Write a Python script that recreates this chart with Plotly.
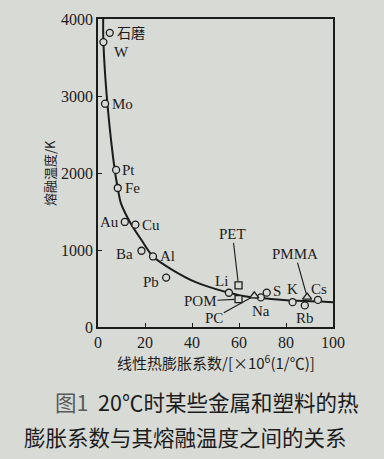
import plotly.graph_objects as go

# Metals (open circles): linear expansion coefficient (x10^-6 /°C) and melting point (K)
metal_names = ["石磨", "W", "Mo", "Pt", "Fe", "Au", "Cu", "Ba", "Al", "Pb",
               "Li", "Na", "S", "K", "Rb", "Cs"]
metal_alpha = [5.0, 2.3, 3.0, 7.7, 8.4, 11.4, 15.9, 18.5, 23.4, 29.0,
               55.7, 69.3, 71.8, 82.8, 88.0, 93.6]
metal_tm = [3820, 3700, 2900, 2040, 1805, 1364, 1329, 990, 916, 642,
            445, 384, 446, 323, 280, 352]

# Plastics: squares and triangles
square_names = ["PET", "POM"]
square_alpha = [59.8, 59.8]
square_tm = [541, 362]
tri_names = ["PC", "PMMA"]
tri_alpha = [66.5, 89.0]
tri_tm = [404, 388]

# Trend curve traced through the data
curve_alpha = [2.2, 2.3, 4.0, 7.3, 8.4, 9.7, 13.8, 18.7, 23.4, 31.6, 41.6,
               49.9, 55.7, 63.2, 73.6, 83.5, 94.5, 100]
curve_tm = [4000, 3700, 2900, 2000, 1805, 1612, 1351, 1120, 916, 743, 582,
            495, 445, 395, 365, 343, 330, 322]

x_ticks = [0, 20, 40, 60, 80, 100]
y_ticks = [0, 1000, 2000, 3000, 4000]

PAPER = "#d8dad6"
INK = "#1c1c1c"
SERIF = "Liberation Serif, Times New Roman, serif"
CJK = "Noto Sans CJK SC"

fig = go.Figure()
fig.add_trace(go.Scatter(x=curve_alpha, y=curve_tm, mode="lines",
                         line=dict(color=INK, width=2, shape="spline", smoothing=0.8),
                         hoverinfo="skip", showlegend=False))
fig.add_trace(go.Scatter(x=metal_alpha, y=metal_tm, mode="markers",
                         marker=dict(symbol="circle", size=7, color=PAPER,
                                     line=dict(color=INK, width=1.3)),
                         showlegend=False))
fig.add_trace(go.Scatter(x=square_alpha, y=square_tm, mode="markers",
                         marker=dict(symbol="square", size=7, color=PAPER,
                                     line=dict(color=INK, width=1.3)),
                         showlegend=False))
fig.add_trace(go.Scatter(x=tri_alpha, y=tri_tm, mode="markers",
                         marker=dict(symbol="triangle-up", size=8, color=PAPER,
                                     line=dict(color=INK, width=1.3)),
                         showlegend=False))

# label placement: (xanchor, xshift, yshift) in pixels from the marker
metal_label_pos = {
    "石磨": ("left", 5, 1), "W": ("left", 9, -10), "Mo": ("left", 5, 0),
    "Pt": ("left", 4, 0), "Fe": ("left", 5, 0), "Au": ("right", -4, 0),
    "Cu": ("left", 5, 0), "Ba": ("right", -6, -3), "Al": ("left", 5, 0),
    "Pb": ("right", -5, -4), "Li": ("center", -7, 12), "Na": ("center", 0, -14),
    "S": ("center", 10, 2), "K": ("center", 0, 13), "Rb": ("center", 0, -13),
    "Cs": ("center", 1, 11),
}
for name, a, t in zip(metal_names, metal_alpha, metal_tm):
    xa, xs, ys = metal_label_pos[name]
    fnt = dict(family=CJK if name == "石磨" else SERIF, size=15 if name != "石磨" else 14,
               color=INK)
    fig.add_annotation(x=a, y=t, text=name, showarrow=False, xanchor=xa,
                       yanchor="middle", xshift=xs, yshift=ys, font=fnt)

# plastics labelled with leader lines: (ax, ay) pixel offset of the text
plastic_leaders = {"PET": (-6, -51), "POM": (-38, 2), "PC": (-40, 22), "PMMA": (-12, -43)}
for names, xs_, ys_ in [(square_names, square_alpha, square_tm), (tri_names, tri_alpha, tri_tm)]:
    for name, a, t in zip(names, xs_, ys_):
        ax, ay = plastic_leaders[name]
        fig.add_annotation(x=a, y=t, text=name, showarrow=True, arrowhead=0,
                           arrowwidth=1.1, arrowcolor=INK, ax=ax, ay=ay,
                           standoff=4, borderpad=0,
                           font=dict(family=SERIF, size=15, color=INK))

# y-axis title
fig.add_annotation(xref="paper", yref="paper", x=-0.208, y=0.50, xanchor="center",
                   yanchor="middle", text="熔融温度/K", textangle=-90, showarrow=False,
                   font=dict(family=CJK, size=13, color=INK))
# x-axis title
fig.add_annotation(xref="paper", yref="paper", x=0.5, y=-0.115, yanchor="middle",
                   text="线性热膨胀系数/[×10<sup>6</sup>(1/℃)]", showarrow=False,
                   font=dict(family=CJK, size=15, color=INK))
# caption
fig.add_annotation(xref="paper", yref="paper", x=-0.19, y=-0.243, xanchor="left",
                   yanchor="middle",
                   text="<span style='color:#5a5a5a'>图1</span>  20℃时某些金属和塑料的热",
                   showarrow=False, font=dict(family=CJK, size=21.5, color=INK))
fig.add_annotation(xref="paper", yref="paper", x=-0.325, y=-0.357, xanchor="left",
                   yanchor="middle", text="膨胀系数与其熔融温度之间的关系", showarrow=False,
                   font=dict(family=CJK, size=21.5, color=INK))

axis_common = dict(showgrid=False, zeroline=False, showline=True, mirror=True,
                   linecolor=INK, linewidth=1.5, ticks="inside", ticklen=4,
                   tickwidth=1.2, tickcolor=INK,
                   tickfont=dict(family=SERIF, size=16, color=INK))
fig.update_xaxes(range=[0, 100], tickvals=x_ticks, **axis_common)
fig.update_yaxes(range=[0, 4000], tickvals=y_ticks, **axis_common)

fig.update_layout(width=384, height=459,
                  margin=dict(l=98, r=51, t=19, b=132),
                  paper_bgcolor=PAPER, plot_bgcolor=PAPER,
                  showlegend=False)

fig.write_html("out.html")
